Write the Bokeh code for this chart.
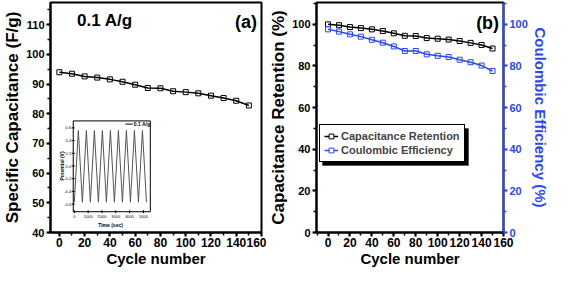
import math
from bokeh.plotting import figure
from bokeh.layouts import row
from bokeh.models import (Range1d, LinearAxis, SingleIntervalTicker, Legend,
                          LegendItem, BoxAnnotation, Label)
from bokeh.core.properties import value
from bokeh.embed import file_html
from bokeh.resources import INLINE

# ---------------- data ----------------
cycles = [0, 10, 20, 30, 40, 50, 60, 70, 80, 90, 100, 110, 120, 130, 140, 150]
spec_cap = [94.0, 93.5, 92.6, 92.2, 91.6, 90.8, 89.8, 88.7, 88.6, 87.6, 87.3,
            86.9, 86.1, 85.3, 84.4, 82.8]
cap_ret = [100.0, 99.6, 98.7, 98.2, 97.6, 96.8, 95.7, 94.5, 94.4, 93.4, 93.1,
           92.7, 92.0, 91.1, 90.1, 88.4]
coul_eff = [97.6, 96.5, 95.2, 94.1, 92.6, 91.2, 89.4, 87.2, 87.2, 85.6, 84.9,
            84.3, 83.0, 81.8, 80.2, 77.6]

gcd_time = [0, 290, 580, 870, 1160, 1450, 1740, 2030, 2320, 2610, 2900, 3190,
            3480, 3770, 4060, 4350, 4640, 4930, 5220]
gcd_potential = [-0.57, 0.56, -0.57, 0.56, -0.57, 0.56, -0.57, 0.56, -0.57,
                 0.56, -0.57, 0.56, -0.57, 0.56, -0.57, 0.56, -0.57, 0.56, -0.57]
inset_time_ticks = [0, 1000, 2000, 3000, 4000, 5000]
inset_pot_ticks = [-0.6, -0.4, -0.2, 0.0, 0.2, 0.4, 0.6]

FONT = "Liberation Sans"
BLUE = "#2946ff"


def style_axis(ax, color="black", label_size="16px", tick_size="11px",
               label_standoff=2, tick_standoff=2):
    ax.axis_line_color = color
    ax.axis_line_width = 2
    ax.major_tick_line_color = color
    ax.major_tick_line_width = 2
    ax.minor_tick_line_color = color
    ax.minor_tick_line_width = 1.5
    ax.major_tick_in = 0
    ax.major_tick_out = 4
    ax.minor_tick_in = 0
    ax.minor_tick_out = 3
    ax.major_label_text_font = FONT
    ax.major_label_text_font_style = "bold"
    ax.major_label_text_font_size = tick_size
    ax.major_label_text_color = color
    ax.major_label_text_line_height = 1.0
    ax.major_label_standoff = tick_standoff
    ax.axis_label_text_font = FONT
    ax.axis_label_text_font_style = "bold"
    ax.axis_label_text_font_size = label_size
    ax.axis_label_text_color = color
    ax.axis_label_text_line_height = 1.0
    ax.axis_label_standoff = label_standoff


# ---------------- panel (a) ----------------
xa = (-7, 160)
ya = (40, 117.5)
pa = figure(width=266, height=269, x_range=Range1d(*xa), y_range=Range1d(*ya),
            output_backend="svg", toolbar_location=None,
            min_border_left=0, min_border_right=5, min_border_top=0,
            min_border_bottom=0)
pa.xgrid.visible = False
pa.ygrid.visible = False
pa.outline_line_color = "black"
pa.outline_line_width = 2
pa.outline_line_alpha = 1
pa.xaxis.ticker = SingleIntervalTicker(interval=20, num_minor_ticks=2)
pa.yaxis.ticker = SingleIntervalTicker(interval=10, num_minor_ticks=2)
pa.xaxis.axis_label = "Cycle number"
pa.yaxis.axis_label = "Specific Capacitance (F/g)"
style_axis(pa.xaxis[0], label_size="15px", tick_size="12px", label_standoff=0,
           tick_standoff=1)
style_axis(pa.yaxis[0], label_size="17px", tick_size="11px", label_standoff=1)

pa.scatter(cycles, spec_cap, marker="square", size=5, fill_color="white",
           line_color="black", line_width=1)
pa.line(cycles, spec_cap, line_color="black", line_width=1.5)

# inset (mapped into the main frame through extra ranges)
inset_t = (-80, 5500)
inset_v = (-0.72, 0.71)
box_x = (11, 72)     # inset box position in main x units
box_y = (47, 77.6)   # inset box position in main y units
bt = (inset_t[1] - inset_t[0]) / (box_x[1] - box_x[0])
bv = (inset_v[1] - inset_v[0]) / (box_y[1] - box_y[0])
pa.extra_x_ranges = {"inset": Range1d(inset_t[0] + (xa[0] - box_x[0]) * bt,
                                      inset_t[0] + (xa[1] - box_x[0]) * bt)}
pa.extra_y_ranges = {"inset": Range1d(inset_v[0] + (ya[0] - box_y[0]) * bv,
                                      inset_v[0] + (ya[1] - box_y[0]) * bv)}
ik = dict(x_range_name="inset", y_range_name="inset")
pa.quad(left=[inset_t[0]], right=[inset_t[1]], bottom=[inset_v[0]],
        top=[inset_v[1]], fill_color="white", line_color="black",
        line_width=1, **ik)
pa.line(gcd_time, gcd_potential, line_color="#555555", line_width=1, **ik)
pa.scatter([inset_t[0]] * len(inset_pot_ticks), inset_pot_ticks, marker="dash",
           size=3, line_color="black", **ik)
pa.scatter(inset_time_ticks, [inset_v[0]] * len(inset_time_ticks),
           marker="dash", angle=math.pi / 2, size=3, line_color="black", **ik)
pa.text([-230] * len(inset_pot_ticks), inset_pot_ticks,
        text=[f"{v:.1f}" for v in inset_pot_ticks], text_align="right",
        text_baseline="middle", text_font=value(FONT),
        text_font_size="4px", text_color="black", **ik)
pa.text(inset_time_ticks, [-0.8] * len(inset_time_ticks),
        text=[str(t) for t in inset_time_ticks], text_align="center",
        text_baseline="middle", text_font=value(FONT),
        text_font_size="4px", text_color="black", **ik)
pa.text([-900], [0.0], text=["Potential (V)"], angle=math.pi / 2,
        text_align="center", text_baseline="middle", text_font=value(FONT),
        text_font_size="5px", text_font_style="bold", text_color="black", **ik)
pa.text([2620], [-0.93], text=["Time (sec)"], text_align="center",
        text_baseline="middle", text_font=value(FONT), text_font_size="5px",
        text_font_style="bold", text_color="black", **ik)
pa.line([3700, 4230], [0.66, 0.66], line_color="black", line_width=1, **ik)
pa.text([4300], [0.66], text=["0.1 A/g"], text_align="left",
        text_baseline="middle", text_font=value(FONT), text_font_size="5px",
        text_font_style="bold", text_color="black", **ik)

pa.add_layout(Label(x=14, y=111.5, text="0.1 A/g", text_font=FONT,
                    text_font_size="17px", text_font_style="bold",
                    text_color="black", text_baseline="middle",
                    text_align="left"))
pa.add_layout(Label(x=156.5, y=111, text="(a)", text_font=FONT,
                    text_font_size="18px", text_font_style="bold",
                    text_color="black", text_baseline="middle",
                    text_align="right"))

# ---------------- panel (b) ----------------
xb = (-10.5, 160)
yb = (0, 110.5)
pb = figure(width=285, height=269, x_range=Range1d(*xb), y_range=Range1d(*yb),
            output_backend="svg", toolbar_location=None,
            min_border_left=0, min_border_right=0, min_border_top=2,
            min_border_bottom=0)
pb.xgrid.visible = False
pb.ygrid.visible = False
pb.outline_line_color = "black"
pb.outline_line_width = 2
pb.outline_line_alpha = 1
pb.extra_y_ranges = {"ce": Range1d(*yb)}
right_ax = LinearAxis(y_range_name="ce", axis_label="Coulombic Efficiency (%)")
pb.add_layout(right_ax, "right")
pb.xaxis.ticker = SingleIntervalTicker(interval=20, num_minor_ticks=2)
pb.yaxis[0].ticker = SingleIntervalTicker(interval=20, num_minor_ticks=2)
right_ax.ticker = SingleIntervalTicker(interval=20, num_minor_ticks=2)
pb.xaxis.axis_label = "Cycle number"
pb.yaxis[0].axis_label = "Capacitance Retention (%)"
style_axis(pb.xaxis[0], label_size="15px", tick_size="12px", label_standoff=0,
           tick_standoff=1)
style_axis(pb.yaxis[0], label_size="17px", tick_size="11px", label_standoff=1)
style_axis(right_ax, color=BLUE, label_size="15px", tick_size="11px",
           label_standoff=1)

s1 = pb.scatter(cycles, cap_ret, marker="square", size=5, fill_color="white",
                line_color="black", line_width=1)
l1 = pb.line(cycles, cap_ret, line_color="black", line_width=1.5)
s2 = pb.scatter(cycles, coul_eff, marker="square", size=5, fill_color="white",
                line_color=BLUE, line_width=1, y_range_name="ce")
l2 = pb.line(cycles, coul_eff, line_color=BLUE, line_width=1.5,
             y_range_name="ce")

# drop shadow behind the legend box
pb.add_layout(BoxAnnotation(left=6, right=152, bottom=67, top=104,
                            left_units="screen", right_units="screen",
                            bottom_units="screen", top_units="screen",
                            fill_color="black", fill_alpha=1,
                            line_color="black", level="underlay"))
legend = Legend(items=[LegendItem(label="Capacitance Retention",
                                  renderers=[l1, s1]),
                       LegendItem(label="Coulombic Efficiency",
                                  renderers=[l2, s2])],
                location=(3, 70), border_line_color="black",
                border_line_width=1, border_line_alpha=1,
                background_fill_color="white", background_fill_alpha=1,
                label_text_font=FONT, label_text_font_style="bold",
                label_text_font_size="11px", glyph_width=14, glyph_height=12,
                label_height=14, spacing=0, padding=4, margin=0,
                label_standoff=3)
pb.add_layout(legend)

pb.add_layout(Label(x=156, y=100.5, text="(b)", text_font=FONT,
                    text_font_size="18px", text_font_style="bold",
                    text_color="black", text_baseline="middle",
                    text_align="right"))

layout = row(pa, pb)
open("out.html", "w").write(file_html(layout, INLINE))
